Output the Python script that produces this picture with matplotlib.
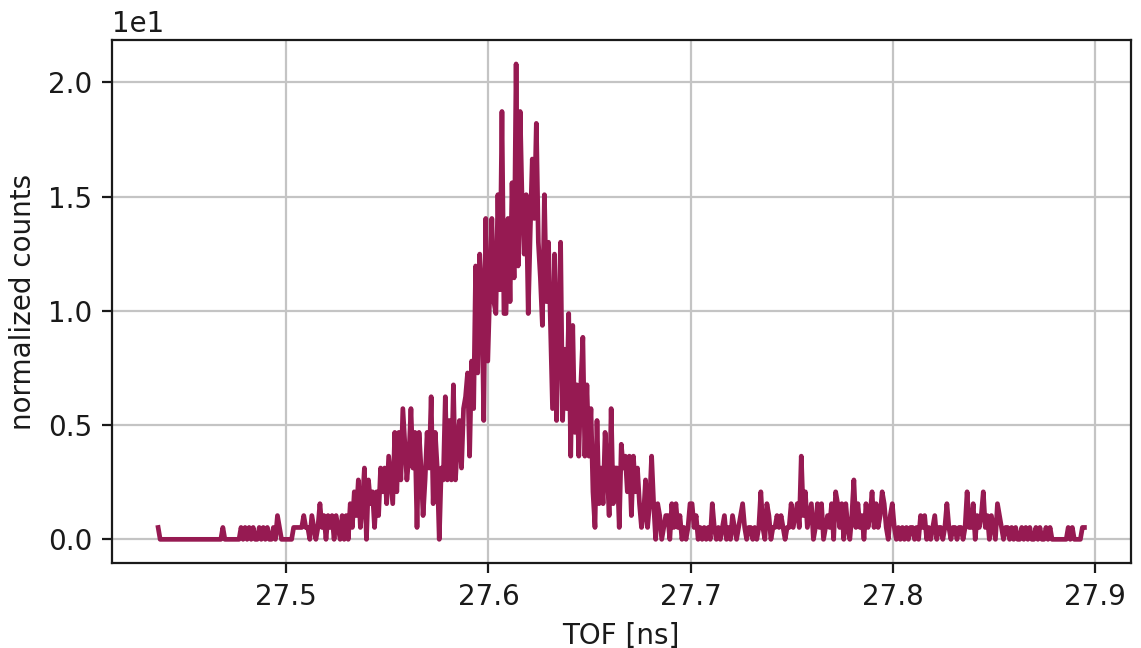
import numpy as np
import matplotlib
matplotlib.use('Agg')
import matplotlib.pyplot as plt

# time-of-flight histogram, raw counts per bin (bin width 1 ps)
tof_start = 27.4367
bin_width = 0.001
count_scale = 0.52   # normalisation applied to the raw counts

counts = [
    1, 0, 0, 0, 0, 0, 0, 0, 0, 0,
    0, 0, 0, 0, 0, 0, 0, 0, 0, 0,
    0, 0, 0, 0, 0, 0, 0, 0, 0, 0,
    0, 0, 1, 0, 0, 0, 0, 0, 0, 0,
    0, 1, 0, 1, 0, 1, 0, 1, 0, 0,
    1, 0, 1, 0, 1, 0, 0, 1, 0, 2,
    1, 0, 0, 0, 0, 0, 0, 1, 1, 1,
    1, 1, 2, 1, 1, 0, 2, 1, 0, 1,
    3, 1, 2, 0, 2, 1, 2, 0, 2, 1,
    0, 2, 0, 2, 0, 3, 1, 4, 2, 5,
    1, 3, 6, 0, 5, 3, 4, 1, 4, 2,
    6, 4, 6, 3, 7, 5, 3, 9, 4, 9,
    5, 11, 8, 5, 7, 11, 6, 9, 1, 9,
    6, 2, 5, 9, 6, 12, 3, 9, 6, 0,
    6, 5, 12, 5, 10, 5, 13, 5, 8, 10,
    6, 11, 12, 14, 7, 15, 11, 23, 14, 24,
    21, 10, 27, 15, 21, 27, 20, 19, 29, 21,
    36, 19, 19, 27, 20, 30, 22, 40, 23, 36,
    28, 24, 29, 19, 26, 32, 27, 35, 25, 22,
    18, 29, 20, 25, 18, 11, 24, 10, 18, 25,
    10, 16, 11, 19, 7, 18, 9, 13, 7, 13,
    17, 7, 13, 7, 11, 4, 1, 10, 3, 6,
    3, 9, 6, 2, 11, 3, 6, 6, 1, 8,
    6, 7, 4, 7, 2, 7, 4, 6, 3, 1,
    2, 5, 1, 3, 7, 3, 0, 3, 2, 0,
    1, 2, 2, 0, 3, 1, 3, 1, 2, 0,
    1, 0, 1, 3, 3, 1, 2, 0, 1, 0,
    1, 0, 1, 0, 3, 1, 0, 1, 0, 1,
    2, 0, 1, 0, 2, 1, 0, 1, 2, 3,
    1, 0, 1, 1, 0, 1, 0, 1, 4, 1,
    0, 3, 2, 0, 1, 1, 2, 1, 2, 1,
    0, 1, 1, 3, 1, 2, 3, 1, 7, 2,
    4, 1, 2, 3, 0, 1, 3, 1, 3, 0,
    1, 2, 1, 3, 0, 4, 3, 1, 3, 0,
    3, 1, 0, 2, 5, 1, 3, 1, 2, 0,
    3, 1, 2, 4, 1, 3, 1, 2, 4, 3,
    1, 0, 2, 3, 1, 0, 1, 0, 1, 0,
    1, 0, 1, 1, 0, 1, 0, 2, 1, 2,
    0, 1, 0, 1, 2, 0, 1, 1, 0, 1,
    3, 1, 0, 1, 1, 0, 1, 1, 0, 1,
    4, 1, 1, 3, 0, 2, 1, 2, 4, 1,
    2, 0, 2, 1, 0, 3, 2, 1, 0, 1,
    1, 0, 1, 0, 1, 0, 0, 1, 0, 1,
    0, 1, 0, 0, 1, 0, 1, 0, 0, 1,
    0, 1, 0, 0, 0, 0, 0, 0, 0, 0,
    1, 0, 1, 0, 0, 0, 0, 1, 1,
]

line_color = '#961a52'

tof = tof_start + bin_width * np.arange(len(counts))
norm_counts = np.array(counts) * count_scale

plt.rcParams['font.family'] = 'DejaVu Sans'
plt.rcParams['font.size'] = 10

fig, ax = plt.subplots(figsize=(5.705, 3.24), dpi=200)
fig.subplots_adjust(left=0.098, right=0.991, top=0.938, bottom=0.131)

ax.plot(tof, norm_counts, color=line_color, lw=1.7, zorder=3)

ax.grid(True, color='#c4c4c4', lw=0.8)
ax.set_axisbelow(True)
ax.tick_params(direction='out', length=3.5, width=0.8, colors='#1a1a1a', labelsize=10)
for spine in ax.spines.values():
    spine.set_linewidth(0.8)
    spine.set_color('#1a1a1a')

ax.set_xticks([27.5, 27.6, 27.7, 27.8, 27.9])
ax.ticklabel_format(axis='y', style='sci', scilimits=(0, 0))
ax.set_xlabel('TOF [ns]', color='#1a1a1a')
ax.set_ylabel('normalized counts', color='#1a1a1a')

fig.savefig('out.png', dpi=200)
